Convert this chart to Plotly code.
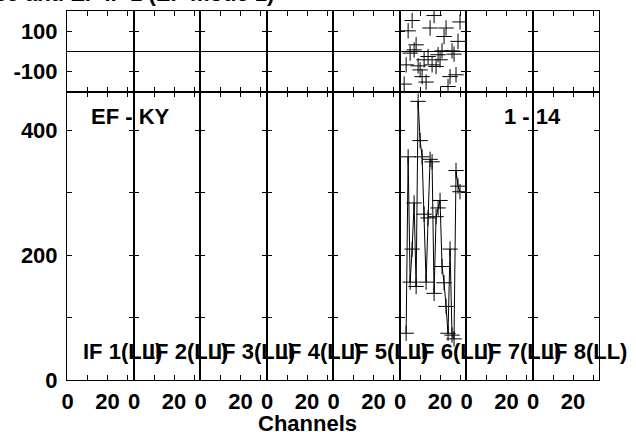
import plotly.graph_objects as go
from plotly.subplots import make_subplots

# ---- data -------------------------------------------------------------
n_if = 8
if_labels = ["IF 1(LL)", "IF 2(LL)", "IF 3(LL)", "IF 4(LL)",
             "IF 5(LL)", "IF 6(LL)", "IF 7(LL)", "IF 8(LL)"]
data_if = 6  # only IF 6 has unflagged data

amp_channels = [3, 4, 5, 6, 7, 8, 9, 10, 11, 12, 13, 14, 15, 16, 17, 18,
                19, 20, 21, 22, 23, 24, 25, 26, 27, 28, 29, 30]
amp_values = [75, 358, 157, 210, 284, 150, 447, 384, 358, 266, 157, 260,
              354, 350, 139, 262, 276, 288, 182, 156, 118, 75, 210, 72,
              66, 336, 311, 302]

phase_channels = [2, 3, 4, 5, 6, 7, 8, 9, 10, 11, 12, 13, 14, 15, 16, 17,
                  18, 19, 20, 21, 22, 23, 24, 25, 26, 27, 28, 29, 30]
phase_values = [-161, -66, 102, -8, 153, 8, 33, -71, -91, -124, -41, -151,
                -25, 116, -66, 178, -74, -16, -41, 3, 74, 116, -173, -124,
                3, -13, -115, 50, 146]

x_tickvals = [0, 10, 20, 30]
x_ticktext = ["0", "", "20", ""]
amp_tickvals = [0, 100, 200, 300, 400]
amp_ticktext = ["0", "", "200", "", "400"]
ph_tickvals = [-100, 100]
ph_ticktext = ["-100", "100"]

title_text = "Phase and EF IF 1 (EF mode 1)"
baseline_text = "EF - KY"
time_text = "1 - 14"
xlabel_text = "Channels"

# ---- figure -----------------------------------------------------------
FONT = "Liberation Sans"
fig = make_subplots(rows=2, cols=n_if, horizontal_spacing=0, vertical_spacing=0,
                    row_heights=[0.2195, 0.7805])

cross = dict(symbol="cross-thin", size=11, line=dict(width=1, color="black"),
             color="black")

for c in range(1, n_if + 1):
    has = (c == data_if)
    fig.add_trace(go.Scatter(x=phase_channels if has else [],
                             y=phase_values if has else [],
                             mode="markers", marker=cross, showlegend=False),
                  row=1, col=c)
    fig.add_trace(go.Scatter(x=amp_channels if has else [],
                             y=amp_values if has else [],
                             mode="lines+markers",
                             line=dict(color="black", width=1), marker=cross,
                             showlegend=False),
                  row=2, col=c)

axis_common = dict(showline=True, linecolor="black", linewidth=1,
                   mirror="ticks", ticks="inside", ticklen=5,
                   tickcolor="black", tickwidth=1, showgrid=False,
                   zeroline=False)

for c in range(1, n_if + 1):
    for r in (1, 2):
        fig.update_xaxes(range=[-0.33, 33.0], tickvals=x_tickvals,
                         ticktext=x_ticktext, showticklabels=(r == 2),
                         row=r, col=c, **axis_common)
    fig.update_yaxes(range=[-200, 200], tickvals=ph_tickvals,
                     ticktext=ph_ticktext, showticklabels=(c == 1),
                     row=1, col=c, **axis_common)
    fig.update_yaxes(range=[0, 462], tickvals=amp_tickvals,
                     ticktext=amp_ticktext, showticklabels=(c == 1),
                     row=2, col=c, **axis_common)

fig.update_xaxes(ticklabelstandoff=2)
fig.update_yaxes(ticklabelstandoff=4)

# zero-phase line across the phase row
fig.add_shape(type="line", xref="paper", x0=0, x1=1, yref="y", y0=0, y1=0,
              line=dict(color="black", width=1))

annots = []
bold = dict(family=FONT, size=22, color="black", weight="bold")
for i, lab in enumerate(if_labels):
    xa = "x%d" % (n_if + i + 1)
    ya = "y%d" % (n_if + i + 1)
    annots.append(dict(text=lab, x=6.5, y=45, xref=xa, yref=ya,
                       xanchor="left", yanchor="middle", showarrow=False,
                       font=bold))
annots.append(dict(text=baseline_text, x=10.5, y=423, xref="x9", yref="y9",
                   xanchor="left", yanchor="middle", showarrow=False, font=bold))
annots.append(dict(text=time_text, x=17.5, y=423, xref="x15", yref="y15",
                   xanchor="left", yanchor="middle", showarrow=False, font=bold))
annots.append(dict(text=xlabel_text, x=(307 - 67) / 532, y=-43 / 369,
                   xref="paper", yref="paper", xanchor="center",
                   yanchor="middle", showarrow=False, font=bold))
annots.append(dict(text=title_text, x=(276 - 67) / 532, y=1 + 3 / 369,
                   xref="paper", yref="paper", xanchor="right",
                   yanchor="bottom", showarrow=False, font=bold))
fig.update_layout(annotations=annots)

fig.update_layout(width=636, height=432,
                  margin=dict(l=67, r=37, t=11, b=52),
                  paper_bgcolor="white", plot_bgcolor="white",
                  font=dict(family=FONT, size=22, color="black", weight="bold"),
                  showlegend=False)

fig.write_html("out.html", config={"displayModeBar": False},
               post_script="document.body.style.margin='0';")
